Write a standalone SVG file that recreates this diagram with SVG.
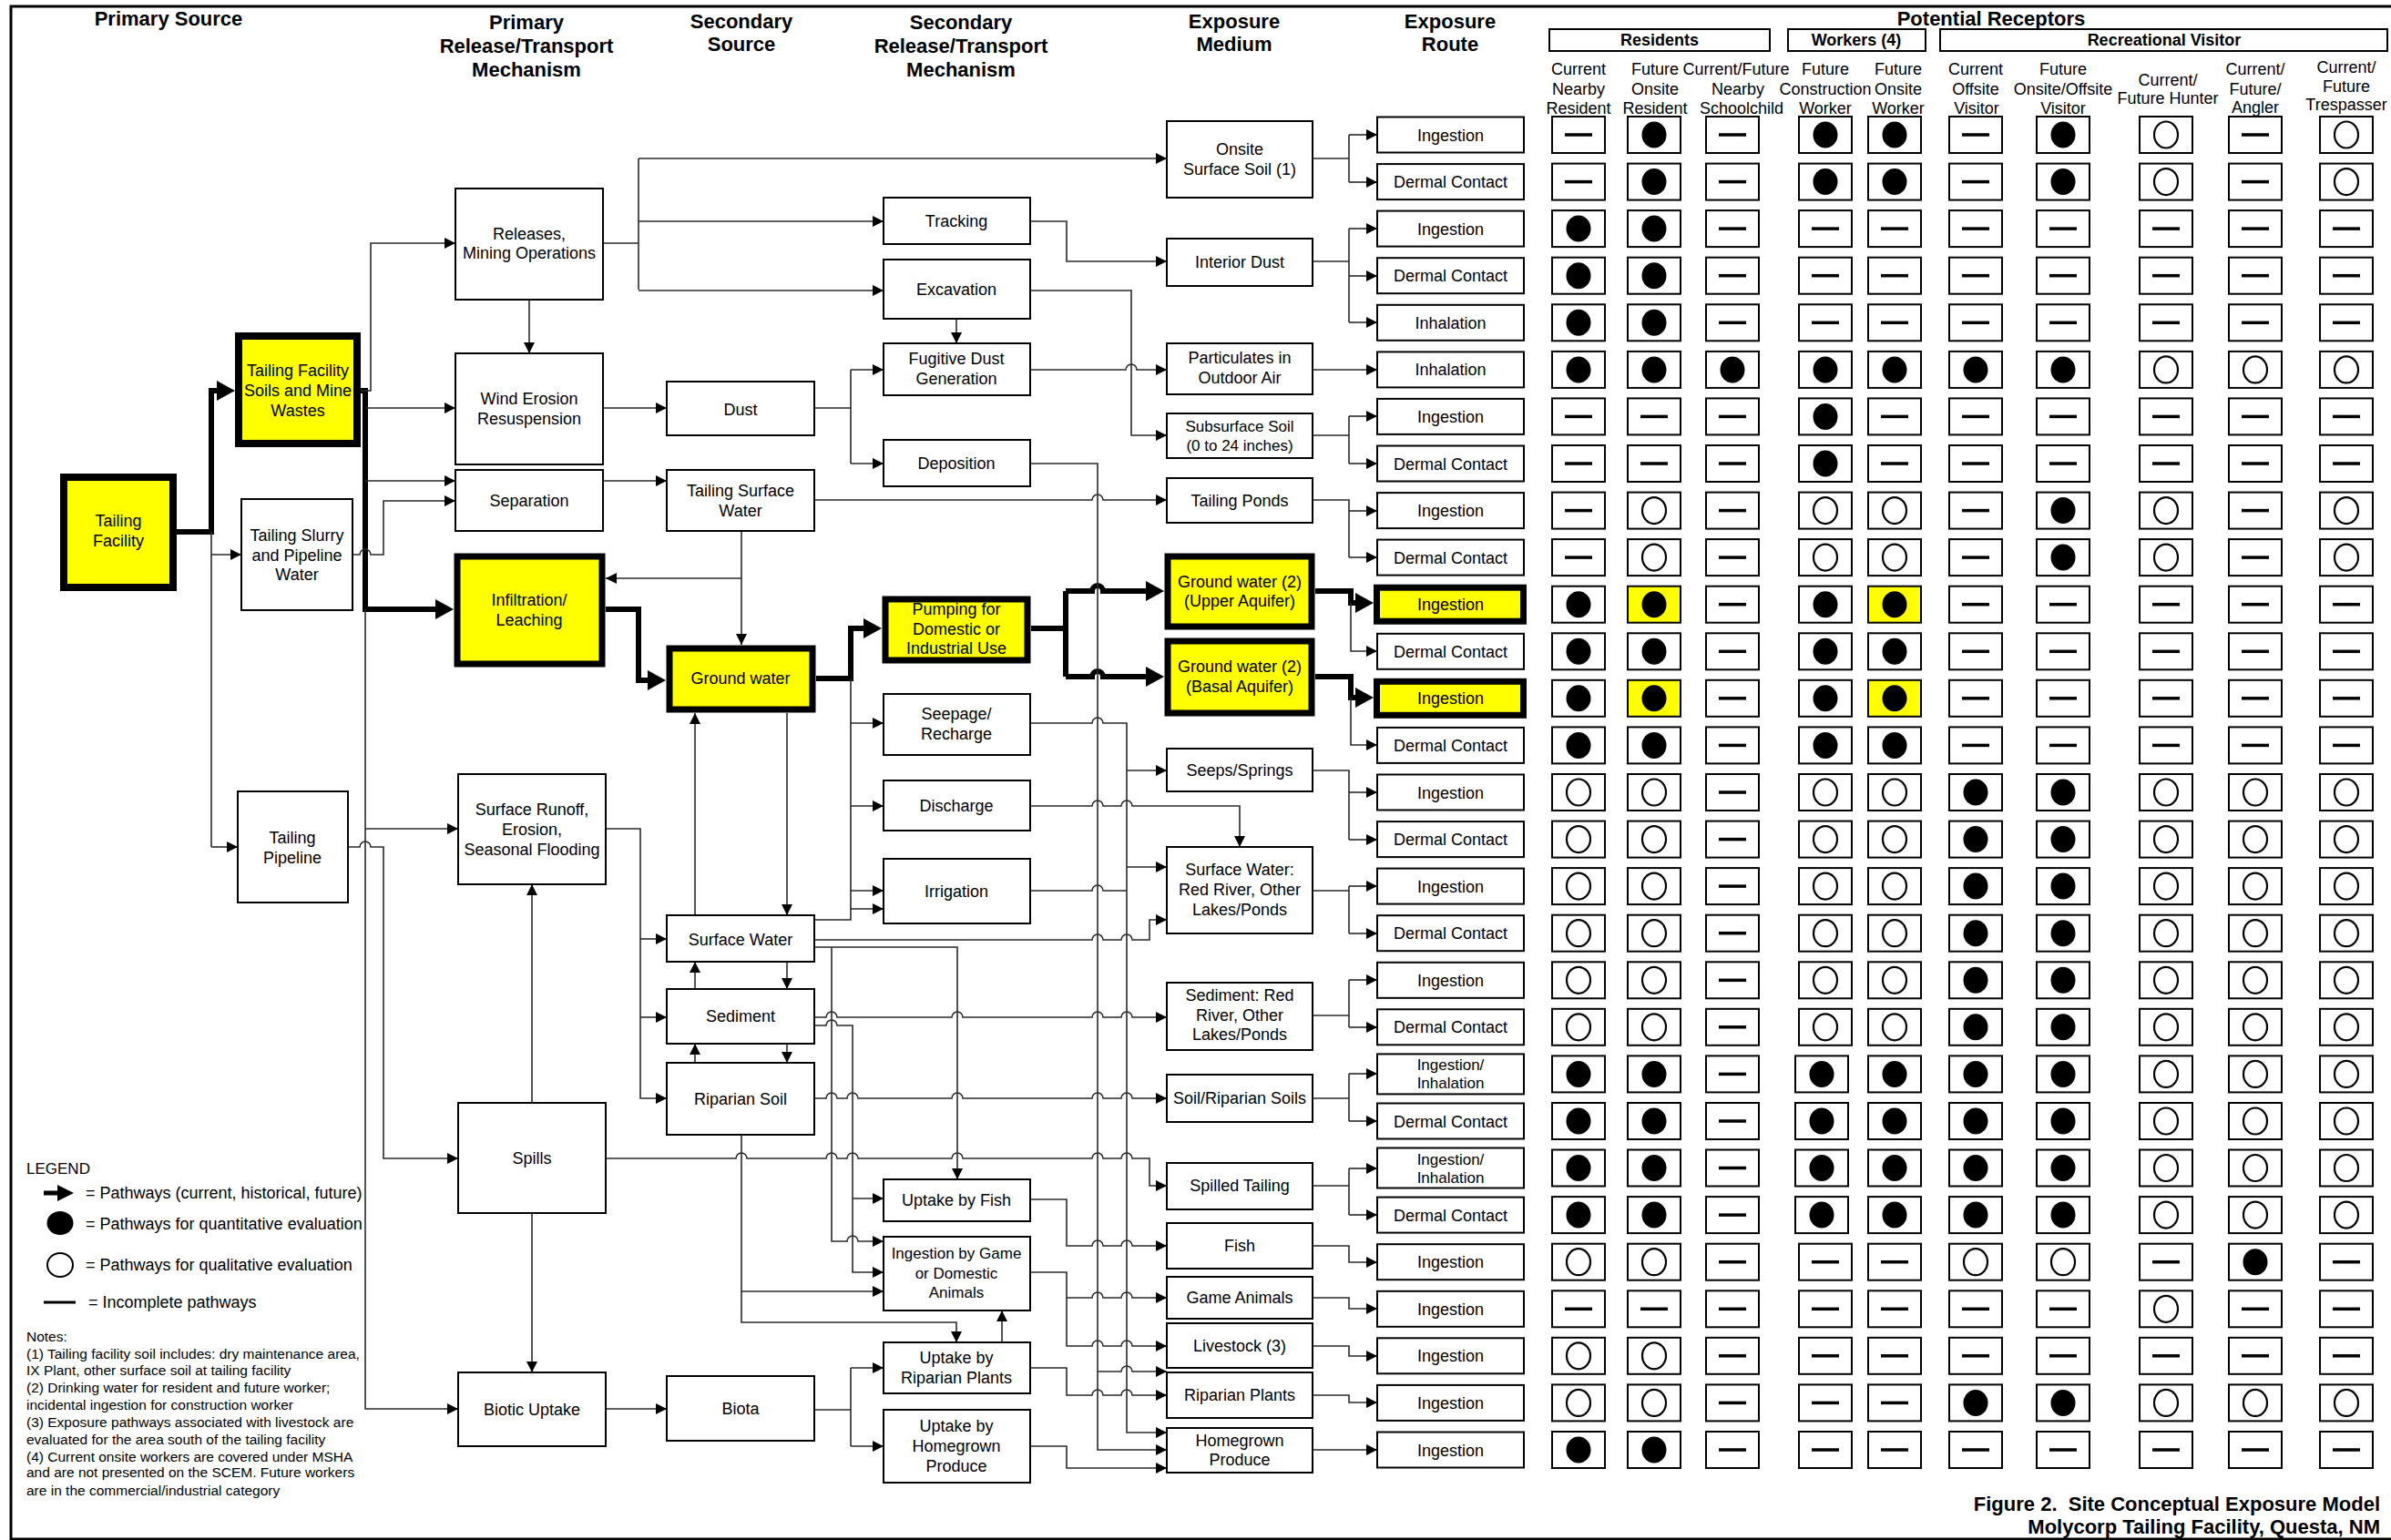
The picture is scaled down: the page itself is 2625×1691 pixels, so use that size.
<svg xmlns="http://www.w3.org/2000/svg" width="2625" height="1691" viewBox="0 0 2625 1691">
<style>
.b{fill:#fff;stroke:#000;stroke-width:2}
.yk{fill:#ffff00;stroke:#000}
.cl{fill:#fff;stroke:#000;stroke-width:2}
.t{font-family:"Liberation Sans",Arial,sans-serif;font-size:18px;text-anchor:middle;fill:#000}
.hd{font-family:"Liberation Sans",Arial,sans-serif;font-size:22px;font-weight:bold;text-anchor:middle;fill:#000}
.gh{font-family:"Liberation Sans",Arial,sans-serif;font-size:18px;font-weight:bold;text-anchor:middle;fill:#000}
.lg{font-family:"Liberation Sans",Arial,sans-serif;font-size:18px;fill:#000}
.nt{font-family:"Liberation Sans",Arial,sans-serif;font-size:15.5px;fill:#000}
.c{fill:none;stroke:#2a2a2a;stroke-width:1.6}
.m{marker-end:url(#ar)}
.k{fill:none;stroke:#000;stroke-width:6}
.M{marker-end:url(#AR)}
</style>
<defs>
<marker id="ar" viewBox="0 0 12 12" refX="12" refY="6" markerWidth="12" markerHeight="12" orient="auto" markerUnits="userSpaceOnUse"><path d="M0,0L12,6L0,12z" fill="#000"/></marker>
<marker id="AR" viewBox="0 0 20 22" refX="2" refY="11" markerWidth="20" markerHeight="22" orient="auto" markerUnits="userSpaceOnUse"><path d="M0,0L20,11L0,22z" fill="#000"/></marker>
<g id="F"><rect x="-29" y="-20" width="58" height="40" class="cl"/><ellipse rx="13.5" ry="14.5" fill="#000"/></g>
<g id="O"><rect x="-29" y="-20" width="58" height="40" class="cl"/><ellipse rx="13" ry="14.5" fill="none" stroke="#000" stroke-width="2.2"/></g>
<g id="D"><rect x="-29" y="-20" width="58" height="40" class="cl"/><path d="M-15,0H15" stroke="#000" stroke-width="3.5"/></g>
<g id="Y"><rect x="-29" y="-20" width="58" height="40" fill="#ffff00" stroke="#000" stroke-width="2"/><ellipse rx="13.5" ry="14.5" fill="#000"/></g>
</defs>
<rect width="2625" height="1691" fill="#fff"/>
<rect x="12" y="7" width="2640" height="1683" fill="none" stroke="#000" stroke-width="3"/>

<g id="titles">
<text class="hd" x="185" y="28">Primary Source</text>
<text class="hd"><tspan x="578" y="32">Primary</tspan><tspan x="578" y="58">Release/Transport</tspan><tspan x="578" y="84">Mechanism</tspan></text>
<text class="hd"><tspan x="814" y="31">Secondary</tspan><tspan x="814" y="56">Source</tspan></text>
<text class="hd"><tspan x="1055" y="32">Secondary</tspan><tspan x="1055" y="58">Release/Transport</tspan><tspan x="1055" y="84">Mechanism</tspan></text>
<text class="hd"><tspan x="1355" y="31">Exposure</tspan><tspan x="1355" y="56">Medium</tspan></text>
<text class="hd"><tspan x="1592" y="31">Exposure</tspan><tspan x="1592" y="56">Route</tspan></text>
<text class="hd" x="2186" y="28">Potential Receptors</text>
</g>

<g id="receptor-groups">
<rect x="1701" y="32" width="242" height="24" class="b"/><text class="gh" x="1822" y="50">Residents</text>
<rect x="1963" y="32" width="151" height="24" class="b"/><text class="gh" x="2038" y="50">Workers (4)</text>
<rect x="2130" y="32" width="491" height="24" class="b"/><text class="gh" x="2376" y="50">Recreational Visitor</text>
</g>
<g id="receptor-headers">
<text class="t"><tspan x="1733" y="82">Current</tspan><tspan x="1733" y="103.5">Nearby</tspan><tspan x="1733" y="125">Resident</tspan></text>
<text class="t"><tspan x="1817" y="82">Future</tspan><tspan x="1817" y="103.5">Onsite</tspan><tspan x="1817" y="125">Resident</tspan></text>
<text class="t"><tspan x="1906" y="82">Current/Future</tspan><tspan x="1908" y="103.5">Nearby</tspan><tspan x="1912" y="125">Schoolchild</tspan></text>
<text class="t"><tspan x="2004" y="82">Future</tspan><tspan x="2004" y="103.5">Construction</tspan><tspan x="2004" y="125">Worker</tspan></text>
<text class="t"><tspan x="2084" y="82">Future</tspan><tspan x="2084" y="103.5">Onsite</tspan><tspan x="2084" y="125">Worker</tspan></text>
<text class="t"><tspan x="2169" y="82">Current</tspan><tspan x="2169" y="103.5">Offsite</tspan><tspan x="2170" y="125">Visitor</tspan></text>
<text class="t"><tspan x="2265" y="82">Future</tspan><tspan x="2265" y="103.5">Onsite/Offsite</tspan><tspan x="2265" y="125">Visitor</tspan></text>
<text class="t"><tspan x="2380" y="94">Current/</tspan><tspan x="2380" y="114">Future Hunter</tspan></text>
<text class="t"><tspan x="2476" y="82">Current/</tspan><tspan x="2476" y="103.5">Future/</tspan><tspan x="2476" y="124">Angler</tspan></text>
<text class="t"><tspan x="2576" y="80">Current/</tspan><tspan x="2576" y="101">Future</tspan><tspan x="2576" y="121">Trespasser</tspan></text>
</g>

<g id="connectors">
<path class="k M" d="M194,584H232V429H240"/>
<path class="k M" d="M396,429H401V669H480"/>
<path class="k M" d="M665,669H701V747H713"/>
<path class="k M" d="M896,745H934V690H950"/>
<path class="k" d="M1132,690H1170M1170,649V743"/>
<path class="k M" d="M1170,649H1199a6,6 0 0 1 12,0H1260"/>
<path class="k M" d="M1170,743H1199a6,6 0 0 1 12,0H1260"/>
<path class="k M" d="M1444,649H1483V662H1490"/>
<path class="k M" d="M1444,743H1483V766H1490"/>

<path class="c" d="M232,584V930"/>
<path class="c m" d="M232,930H261"/>
<path class="c m" d="M232,609H265"/>
<path class="c m" d="M396,429H407V267H500"/>
<path class="c m" d="M401,448H500"/>
<path class="c m" d="M401,528H500"/>
<path class="c m" d="M387,609H395a6,6 0 0 1 12,0H421V550H500"/>
<path class="c m" d="M382,930H395a6,6 0 0 1 12,0H421V1272H503"/>
<path class="c m" d="M401,669V1547H503"/>
<path class="c m" d="M401,910H503"/>
<path class="c m" d="M581,329V388"/>
<path class="c" d="M662,267H701M701,174V318"/>
<path class="c m" d="M701,174H1281"/>
<path class="c m" d="M701,243H970"/>
<path class="c m" d="M701,319H970"/>
<path class="c m" d="M662,448H732"/>
<path class="c m" d="M662,528H732"/>
<path class="c m" d="M814,583V708"/>
<path class="c m" d="M814,635H665"/>
<path class="c m" d="M894,549H1199a6,6 0 0 1 12,0H1281"/>
<path class="c" d="M894,448H934M934,406V509"/>
<path class="c m" d="M934,406H970"/>
<path class="c m" d="M934,509H970"/>
<path class="c m" d="M1050,350V377"/>
<path class="c m" d="M1131,243H1171V287H1281"/>
<path class="c m" d="M1131,319H1242V478H1281"/>
<path class="c m" d="M1131,406H1236a6,6 0 0 1 12,0H1281"/>
<path class="c m" d="M1131,509H1205V1592H1281"/>
<path class="c m" d="M1205,1506H1231a6,6 0 0 1 12,0H1281"/>
<path class="c m" d="M864,783V1005"/>
<path class="c m" d="M763,1005V783"/>
<path class="c" d="M934,745V1010H894"/>
<path class="c m" d="M934,794H970"/>
<path class="c m" d="M934,885H970"/>
<path class="c m" d="M934,978H970"/>
<path class="c m" d="M934,998H970"/>
<path class="c m" d="M894,1032H1199a6,6 0 0 1 12,0H1231a6,6 0 0 1 12,0H1262V1010H1281"/>
<path class="c m" d="M1131,794H1199a6,6 0 0 1 12,0H1237V1573H1281"/>
<path class="c m" d="M1237,846H1281"/>
<path class="c m" d="M1237,952H1281"/>
<path class="c m" d="M1131,885H1199a6,6 0 0 1 12,0H1231a6,6 0 0 1 12,0H1361V930"/>
<path class="c" d="M1131,978H1199a6,6 0 0 1 12,0H1237"/>
<path class="c m" d="M894,1040H1051V1295"/>
<path class="c m" d="M913,1040V1363H930a6,6 0 0 1 12,0H970"/>
<path class="c m" d="M894,1126H907a6,6 0 0 1 12,0H936V1397H970"/>
<path class="c m" d="M936,1316H970"/>
<path class="c m" d="M894,1117H907a6,6 0 0 1 12,0H1045a6,6 0 0 1 12,0H1199a6,6 0 0 1 12,0H1231a6,6 0 0 1 12,0H1281"/>
<path class="c m" d="M665,910H703V1206H732"/>
<path class="c m" d="M703,1031H732"/>
<path class="c m" d="M703,1117H732"/>
<path class="c m" d="M763,1086V1056"/>
<path class="c m" d="M864,1056V1086"/>
<path class="c m" d="M763,1167V1146"/>
<path class="c m" d="M864,1146V1167"/>
<path class="c m" d="M894,1206H907a6,6 0 0 1 12,0H930a6,6 0 0 1 12,0H1045a6,6 0 0 1 12,0H1199a6,6 0 0 1 12,0H1231a6,6 0 0 1 12,0H1281"/>
<path class="c m" d="M665,1272H808a6,6 0 0 1 12,0H907a6,6 0 0 1 12,0H930a6,6 0 0 1 12,0H1045a6,6 0 0 1 12,0H1199a6,6 0 0 1 12,0H1231a6,6 0 0 1 12,0H1262V1302H1281"/>
<path class="c m" d="M584,1211V971"/>
<path class="c m" d="M584,1332V1507"/>
<path class="c m" d="M814,1246V1452H1050V1474"/>
<path class="c m" d="M814,1418H970"/>
<path class="c m" d="M665,1547H732"/>
<path class="c" d="M894,1548H934M934,1502V1588"/>
<path class="c m" d="M934,1502H970"/>
<path class="c m" d="M934,1588H970"/>
<path class="c m" d="M1100,1474V1439"/>
<path class="c m" d="M1131,1317H1171V1368H1199a6,6 0 0 1 12,0H1231a6,6 0 0 1 12,0H1281"/>
<path class="c m" d="M1131,1397H1171V1478H1199a6,6 0 0 1 12,0H1231a6,6 0 0 1 12,0H1281"/>
<path class="c m" d="M1171,1425H1199a6,6 0 0 1 12,0H1231a6,6 0 0 1 12,0H1281"/>
<path class="c m" d="M1131,1502H1171V1532H1199a6,6 0 0 1 12,0H1231a6,6 0 0 1 12,0H1281"/>
<path class="c m" d="M1131,1588H1171V1612H1281"/>

<path class="c" d="M1441,174H1481M1481,148V200"/>
<path class="c m" d="M1481,148H1512"/><path class="c m" d="M1481,200H1512"/>
<path class="c" d="M1441,287H1481M1481,251V354"/>
<path class="c m" d="M1481,251H1512"/><path class="c m" d="M1481,303H1512"/><path class="c m" d="M1481,354H1512"/>
<path class="c m" d="M1441,406H1512"/>
<path class="c" d="M1441,478H1481M1481,457V509"/>
<path class="c m" d="M1481,457H1512"/><path class="c m" d="M1481,509H1512"/>
<path class="c" d="M1441,549H1481V612"/>
<path class="c m" d="M1481,561H1512"/><path class="c m" d="M1481,612H1512"/>
<path class="c m" d="M1483,662V715H1512"/>
<path class="c m" d="M1483,766V818H1512"/>
<path class="c" d="M1441,846H1481V922"/>
<path class="c m" d="M1481,870H1512"/><path class="c m" d="M1481,922H1512"/>
<path class="c" d="M1441,978H1481M1481,973V1025"/>
<path class="c m" d="M1481,973H1512"/><path class="c m" d="M1481,1025H1512"/>
<path class="c" d="M1441,1115H1481M1481,1076V1128"/>
<path class="c m" d="M1481,1076H1512"/><path class="c m" d="M1481,1128H1512"/>
<path class="c" d="M1441,1206H1481M1481,1179V1231"/>
<path class="c m" d="M1481,1179H1512"/><path class="c m" d="M1481,1231H1512"/>
<path class="c" d="M1441,1302H1481M1481,1283V1334"/>
<path class="c m" d="M1481,1283H1512"/><path class="c m" d="M1481,1334H1512"/>
<path class="c m" d="M1441,1368H1481V1386H1512"/>
<path class="c m" d="M1441,1425H1481V1437H1512"/>
<path class="c m" d="M1441,1478H1481V1489H1512"/>
<path class="c m" d="M1441,1532H1481V1540H1512"/>
<path class="c m" d="M1441,1592H1512"/>
</g>

<g id="tailing-facility"><rect x="70" y="524" width="120" height="121" class="yk" stroke-width="8"/><text class="t"><tspan x="130" y="578">Tailing</tspan><tspan x="130" y="600">Facility</tspan></text></g>
<g id="tailing-facility-soils"><rect x="262" y="369" width="130" height="118" class="yk" stroke-width="8"/><text class="t"><tspan x="327" y="413">Tailing Facility</tspan><tspan x="327" y="435">Soils and Mine</tspan><tspan x="327" y="457">Wastes</tspan></text></g>
<g id="tailing-slurry"><rect x="265" y="548" width="122" height="122" class="b"/><text class="t"><tspan x="326" y="594">Tailing Slurry</tspan><tspan x="326" y="616">and Pipeline</tspan><tspan x="326" y="637">Water</tspan></text></g>
<g id="tailing-pipeline"><rect x="261" y="869" width="121" height="122" class="b"/><text class="t"><tspan x="321" y="926">Tailing</tspan><tspan x="321" y="948">Pipeline</tspan></text></g>

<g id="releases"><rect x="500" y="207" width="162" height="122" class="b"/><text class="t"><tspan x="581" y="263">Releases,</tspan><tspan x="581" y="284">Mining Operations</tspan></text></g>
<g id="wind-erosion"><rect x="500" y="388" width="162" height="122" class="b"/><text class="t"><tspan x="581" y="444">Wind Erosion</tspan><tspan x="581" y="466">Resuspension</tspan></text></g>
<g id="separation"><rect x="500" y="516" width="162" height="67" class="b"/><text class="t" x="581" y="556">Separation</text></g>
<g id="infiltration"><rect x="502" y="611" width="159" height="118" class="yk" stroke-width="7"/><text class="t"><tspan x="581" y="665">Infiltration/</tspan><tspan x="581" y="687">Leaching</tspan></text></g>
<g id="surface-runoff"><rect x="503" y="850" width="162" height="121" class="b"/><text class="t"><tspan x="584" y="895">Surface Runoff,</tspan><tspan x="584" y="917">Erosion,</tspan><tspan x="584" y="939">Seasonal Flooding</tspan></text></g>
<g id="spills"><rect x="503" y="1211" width="162" height="121" class="b"/><text class="t" x="584" y="1278">Spills</text></g>
<g id="biotic-uptake"><rect x="503" y="1507" width="162" height="81" class="b"/><text class="t" x="584" y="1554">Biotic Uptake</text></g>

<g id="dust"><rect x="732" y="419" width="162" height="59" class="b"/><text class="t" x="813" y="456">Dust</text></g>
<g id="tailing-surface-water"><rect x="732" y="516" width="162" height="67" class="b"/><text class="t"><tspan x="813" y="545">Tailing Surface</tspan><tspan x="813" y="567">Water</tspan></text></g>
<g id="ground-water"><rect x="735" y="712" width="157" height="67" class="yk" stroke-width="7"/><text class="t" x="813" y="751">Ground water</text></g>
<g id="surface-water"><rect x="732" y="1005" width="162" height="51" class="b"/><text class="t" x="813" y="1038">Surface Water</text></g>
<g id="sediment"><rect x="732" y="1086" width="162" height="60" class="b"/><text class="t" x="813" y="1122">Sediment</text></g>
<g id="riparian-soil"><rect x="732" y="1167" width="162" height="79" class="b"/><text class="t" x="813" y="1213">Riparian Soil</text></g>
<g id="biota"><rect x="732" y="1511" width="162" height="71" class="b"/><text class="t" x="813" y="1553">Biota</text></g>

<g id="tracking"><rect x="970" y="217" width="161" height="51" class="b"/><text class="t" x="1050" y="249">Tracking</text></g>
<g id="excavation"><rect x="970" y="285" width="161" height="65" class="b"/><text class="t" x="1050" y="324">Excavation</text></g>
<g id="fugitive-dust"><rect x="970" y="377" width="161" height="57" class="b"/><text class="t"><tspan x="1050" y="400">Fugitive Dust</tspan><tspan x="1050" y="422">Generation</tspan></text></g>
<g id="deposition"><rect x="970" y="483" width="161" height="51" class="b"/><text class="t" x="1050" y="515">Deposition</text></g>
<g id="pumping"><rect x="972" y="658" width="156" height="67" class="yk" stroke-width="7"/><text class="t"><tspan x="1050" y="675">Pumping for</tspan><tspan x="1050" y="697">Domestic or</tspan><tspan x="1050" y="718">Industrial Use</tspan></text></g>
<g id="seepage"><rect x="970" y="762" width="161" height="67" class="b"/><text class="t"><tspan x="1050" y="790">Seepage/</tspan><tspan x="1050" y="812">Recharge</tspan></text></g>
<g id="discharge"><rect x="970" y="857" width="161" height="55" class="b"/><text class="t" x="1050" y="891">Discharge</text></g>
<g id="irrigation"><rect x="970" y="943" width="161" height="71" class="b"/><text class="t" x="1050" y="985">Irrigation</text></g>
<g id="uptake-fish"><rect x="970" y="1295" width="161" height="46" class="b"/><text class="t" x="1050" y="1324">Uptake by Fish</text></g>
<g id="ingestion-game"><rect x="970" y="1358" width="161" height="81" class="b"/><text class="t" style="font-size:17px"><tspan x="1050" y="1382">Ingestion by Game</tspan><tspan x="1050" y="1404">or Domestic</tspan><tspan x="1050" y="1425">Animals</tspan></text></g>
<g id="uptake-riparian"><rect x="970" y="1474" width="161" height="56" class="b"/><text class="t"><tspan x="1050" y="1497">Uptake by</tspan><tspan x="1050" y="1519">Riparian Plants</tspan></text></g>
<g id="uptake-homegrown"><rect x="970" y="1548" width="161" height="80" class="b"/><text class="t"><tspan x="1050" y="1572">Uptake by</tspan><tspan x="1050" y="1594">Homegrown</tspan><tspan x="1050" y="1616">Produce</tspan></text></g>

<g id="onsite-surface-soil"><rect x="1281" y="133" width="160" height="84" class="b"/><text class="t"><tspan x="1361" y="170">Onsite</tspan><tspan x="1361" y="192">Surface Soil (1)</tspan></text></g>
<g id="interior-dust"><rect x="1281" y="262" width="160" height="52" class="b"/><text class="t" x="1361" y="294">Interior Dust</text></g>
<g id="particulates"><rect x="1281" y="377" width="160" height="56" class="b"/><text class="t"><tspan x="1361" y="399">Particulates in</tspan><tspan x="1361" y="421">Outdoor Air</tspan></text></g>
<g id="subsurface-soil"><rect x="1281" y="454" width="160" height="49" class="b"/><text class="t" style="font-size:17px"><tspan x="1361" y="474">Subsurface Soil</tspan><tspan x="1361" y="495">(0 to 24 inches)</tspan></text></g>
<g id="tailing-ponds"><rect x="1281" y="525" width="160" height="49" class="b"/><text class="t" x="1361" y="556">Tailing Ponds</text></g>
<g id="gw-upper"><rect x="1282" y="611" width="158" height="77" class="yk" stroke-width="7"/><text class="t"><tspan x="1361" y="645">Ground water (2)</tspan><tspan x="1361" y="666">(Upper Aquifer)</tspan></text></g>
<g id="gw-basal"><rect x="1282" y="704" width="158" height="79" class="yk" stroke-width="7"/><text class="t"><tspan x="1361" y="738">Ground water (2)</tspan><tspan x="1361" y="760">(Basal Aquifer)</tspan></text></g>
<g id="seeps-springs"><rect x="1281" y="822" width="160" height="47" class="b"/><text class="t" x="1361" y="852">Seeps/Springs</text></g>
<g id="surface-water-medium"><rect x="1281" y="930" width="160" height="95" class="b"/><text class="t"><tspan x="1361" y="961">Surface Water:</tspan><tspan x="1361" y="983">Red River, Other</tspan><tspan x="1361" y="1005">Lakes/Ponds</tspan></text></g>
<g id="sediment-medium"><rect x="1281" y="1079" width="160" height="74" class="b"/><text class="t"><tspan x="1361" y="1099">Sediment: Red</tspan><tspan x="1361" y="1121">River, Other</tspan><tspan x="1361" y="1142">Lakes/Ponds</tspan></text></g>
<g id="soil-riparian"><rect x="1281" y="1180" width="160" height="52" class="b"/><text class="t" x="1361" y="1212">Soil/Riparian Soils</text></g>
<g id="spilled-tailing"><rect x="1281" y="1277" width="160" height="51" class="b"/><text class="t" x="1361" y="1308">Spilled Tailing</text></g>
<g id="fish"><rect x="1281" y="1343" width="160" height="50" class="b"/><text class="t" x="1361" y="1374">Fish</text></g>
<g id="game-animals"><rect x="1281" y="1402" width="160" height="46" class="b"/><text class="t" x="1361" y="1431">Game Animals</text></g>
<g id="livestock"><rect x="1281" y="1453" width="160" height="49" class="b"/><text class="t" x="1361" y="1484">Livestock (3)</text></g>
<g id="riparian-plants"><rect x="1281" y="1507" width="160" height="50" class="b"/><text class="t" x="1361" y="1538">Riparian Plants</text></g>
<g id="homegrown-produce"><rect x="1281" y="1568" width="160" height="49" class="b"/><text class="t"><tspan x="1361" y="1588">Homegrown</tspan><tspan x="1361" y="1609">Produce</tspan></text></g>

<g id="routes">
<g id="route-0" transform="translate(1512,148)"><rect y="-19.5" width="161" height="39" class="b"/><text class="t" x="80.5" y="6.5">Ingestion</text></g>
<g id="route-1" transform="translate(1512,199.6)"><rect y="-19.5" width="161" height="39" class="b"/><text class="t" x="80.5" y="6.5">Dermal Contact</text></g>
<g id="route-2" transform="translate(1512,251.1)"><rect y="-19.5" width="161" height="39" class="b"/><text class="t" x="80.5" y="6.5">Ingestion</text></g>
<g id="route-3" transform="translate(1512,302.7)"><rect y="-19.5" width="161" height="39" class="b"/><text class="t" x="80.5" y="6.5">Dermal Contact</text></g>
<g id="route-4" transform="translate(1512,354.3)"><rect y="-19.5" width="161" height="39" class="b"/><text class="t" x="80.5" y="6.5">Inhalation</text></g>
<g id="route-5" transform="translate(1512,405.9)"><rect y="-19.5" width="161" height="39" class="b"/><text class="t" x="80.5" y="6.5">Inhalation</text></g>
<g id="route-6" transform="translate(1512,457.4)"><rect y="-19.5" width="161" height="39" class="b"/><text class="t" x="80.5" y="6.5">Ingestion</text></g>
<g id="route-7" transform="translate(1512,509)"><rect y="-19.5" width="161" height="39" class="b"/><text class="t" x="80.5" y="6.5">Dermal Contact</text></g>
<g id="route-8" transform="translate(1512,560.6)"><rect y="-19.5" width="161" height="39" class="b"/><text class="t" x="80.5" y="6.5">Ingestion</text></g>
<g id="route-9" transform="translate(1512,612.1)"><rect y="-19.5" width="161" height="39" class="b"/><text class="t" x="80.5" y="6.5">Dermal Contact</text></g>
<g id="route-10" transform="translate(1512,663.7)"><rect x="-0.5" y="-18.5" width="161" height="37" class="yk" stroke-width="7"/><text class="t" x="80.5" y="6.5">Ingestion</text></g>
<g id="route-11" transform="translate(1512,715.3)"><rect y="-19.5" width="161" height="39" class="b"/><text class="t" x="80.5" y="6.5">Dermal Contact</text></g>
<g id="route-12" transform="translate(1512,766.8)"><rect x="-0.5" y="-18.5" width="161" height="37" class="yk" stroke-width="7"/><text class="t" x="80.5" y="6.5">Ingestion</text></g>
<g id="route-13" transform="translate(1512,818.4)"><rect y="-19.5" width="161" height="39" class="b"/><text class="t" x="80.5" y="6.5">Dermal Contact</text></g>
<g id="route-14" transform="translate(1512,870)"><rect y="-19.5" width="161" height="39" class="b"/><text class="t" x="80.5" y="6.5">Ingestion</text></g>
<g id="route-15" transform="translate(1512,921.6)"><rect y="-19.5" width="161" height="39" class="b"/><text class="t" x="80.5" y="6.5">Dermal Contact</text></g>
<g id="route-16" transform="translate(1512,973.1)"><rect y="-19.5" width="161" height="39" class="b"/><text class="t" x="80.5" y="6.5">Ingestion</text></g>
<g id="route-17" transform="translate(1512,1024.7)"><rect y="-19.5" width="161" height="39" class="b"/><text class="t" x="80.5" y="6.5">Dermal Contact</text></g>
<g id="route-18" transform="translate(1512,1076.3)"><rect y="-19.5" width="161" height="39" class="b"/><text class="t" x="80.5" y="6.5">Ingestion</text></g>
<g id="route-19" transform="translate(1512,1127.8)"><rect y="-19.5" width="161" height="39" class="b"/><text class="t" x="80.5" y="6.5">Dermal Contact</text></g>
<g id="route-20" transform="translate(1512,1179.4)"><rect y="-22" width="161" height="44" class="b"/><text class="t" style="font-size:17px"><tspan x="80.5" y="-4">Ingestion/</tspan><tspan x="80.5" y="16">Inhalation</tspan></text></g>
<g id="route-21" transform="translate(1512,1231)"><rect y="-19.5" width="161" height="39" class="b"/><text class="t" x="80.5" y="6.5">Dermal Contact</text></g>
<g id="route-22" transform="translate(1512,1282.5)"><rect y="-22" width="161" height="44" class="b"/><text class="t" style="font-size:17px"><tspan x="80.5" y="-4">Ingestion/</tspan><tspan x="80.5" y="16">Inhalation</tspan></text></g>
<g id="route-23" transform="translate(1512,1334.1)"><rect y="-19.5" width="161" height="39" class="b"/><text class="t" x="80.5" y="6.5">Dermal Contact</text></g>
<g id="route-24" transform="translate(1512,1385.7)"><rect y="-19.5" width="161" height="39" class="b"/><text class="t" x="80.5" y="6.5">Ingestion</text></g>
<g id="route-25" transform="translate(1512,1437.3)"><rect y="-19.5" width="161" height="39" class="b"/><text class="t" x="80.5" y="6.5">Ingestion</text></g>
<g id="route-26" transform="translate(1512,1488.8)"><rect y="-19.5" width="161" height="39" class="b"/><text class="t" x="80.5" y="6.5">Ingestion</text></g>
<g id="route-27" transform="translate(1512,1540.4)"><rect y="-19.5" width="161" height="39" class="b"/><text class="t" x="80.5" y="6.5">Ingestion</text></g>
<g id="route-28" transform="translate(1512,1592)"><rect y="-19.5" width="161" height="39" class="b"/><text class="t" x="80.5" y="6.5">Ingestion</text></g>
</g>

<g id="matrix">
<g transform="translate(0,148)"><use href="#D" x="1733"/><use href="#F" x="1816"/><use href="#D" x="1902"/><use href="#F" x="2004"/><use href="#F" x="2080"/><use href="#D" x="2169"/><use href="#F" x="2265"/><use href="#O" x="2378"/><use href="#D" x="2476"/><use href="#O" x="2576"/></g>
<g transform="translate(0,199.6)"><use href="#D" x="1733"/><use href="#F" x="1816"/><use href="#D" x="1902"/><use href="#F" x="2004"/><use href="#F" x="2080"/><use href="#D" x="2169"/><use href="#F" x="2265"/><use href="#O" x="2378"/><use href="#D" x="2476"/><use href="#O" x="2576"/></g>
<g transform="translate(0,251.1)"><use href="#F" x="1733"/><use href="#F" x="1816"/><use href="#D" x="1902"/><use href="#D" x="2004"/><use href="#D" x="2080"/><use href="#D" x="2169"/><use href="#D" x="2265"/><use href="#D" x="2378"/><use href="#D" x="2476"/><use href="#D" x="2576"/></g>
<g transform="translate(0,302.7)"><use href="#F" x="1733"/><use href="#F" x="1816"/><use href="#D" x="1902"/><use href="#D" x="2004"/><use href="#D" x="2080"/><use href="#D" x="2169"/><use href="#D" x="2265"/><use href="#D" x="2378"/><use href="#D" x="2476"/><use href="#D" x="2576"/></g>
<g transform="translate(0,354.3)"><use href="#F" x="1733"/><use href="#F" x="1816"/><use href="#D" x="1902"/><use href="#D" x="2004"/><use href="#D" x="2080"/><use href="#D" x="2169"/><use href="#D" x="2265"/><use href="#D" x="2378"/><use href="#D" x="2476"/><use href="#D" x="2576"/></g>
<g transform="translate(0,405.9)"><use href="#F" x="1733"/><use href="#F" x="1816"/><use href="#F" x="1902"/><use href="#F" x="2004"/><use href="#F" x="2080"/><use href="#F" x="2169"/><use href="#F" x="2265"/><use href="#O" x="2378"/><use href="#O" x="2476"/><use href="#O" x="2576"/></g>
<g transform="translate(0,457.4)"><use href="#D" x="1733"/><use href="#D" x="1816"/><use href="#D" x="1902"/><use href="#F" x="2004"/><use href="#D" x="2080"/><use href="#D" x="2169"/><use href="#D" x="2265"/><use href="#D" x="2378"/><use href="#D" x="2476"/><use href="#D" x="2576"/></g>
<g transform="translate(0,509)"><use href="#D" x="1733"/><use href="#D" x="1816"/><use href="#D" x="1902"/><use href="#F" x="2004"/><use href="#D" x="2080"/><use href="#D" x="2169"/><use href="#D" x="2265"/><use href="#D" x="2378"/><use href="#D" x="2476"/><use href="#D" x="2576"/></g>
<g transform="translate(0,560.6)"><use href="#D" x="1733"/><use href="#O" x="1816"/><use href="#D" x="1902"/><use href="#O" x="2004"/><use href="#O" x="2080"/><use href="#D" x="2169"/><use href="#F" x="2265"/><use href="#O" x="2378"/><use href="#D" x="2476"/><use href="#O" x="2576"/></g>
<g transform="translate(0,612.1)"><use href="#D" x="1733"/><use href="#O" x="1816"/><use href="#D" x="1902"/><use href="#O" x="2004"/><use href="#O" x="2080"/><use href="#D" x="2169"/><use href="#F" x="2265"/><use href="#O" x="2378"/><use href="#D" x="2476"/><use href="#O" x="2576"/></g>
<g transform="translate(0,663.7)"><use href="#F" x="1733"/><use href="#Y" x="1816"/><use href="#D" x="1902"/><use href="#F" x="2004"/><use href="#Y" x="2080"/><use href="#D" x="2169"/><use href="#D" x="2265"/><use href="#D" x="2378"/><use href="#D" x="2476"/><use href="#D" x="2576"/></g>
<g transform="translate(0,715.3)"><use href="#F" x="1733"/><use href="#F" x="1816"/><use href="#D" x="1902"/><use href="#F" x="2004"/><use href="#F" x="2080"/><use href="#D" x="2169"/><use href="#D" x="2265"/><use href="#D" x="2378"/><use href="#D" x="2476"/><use href="#D" x="2576"/></g>
<g transform="translate(0,766.8)"><use href="#F" x="1733"/><use href="#Y" x="1816"/><use href="#D" x="1902"/><use href="#F" x="2004"/><use href="#Y" x="2080"/><use href="#D" x="2169"/><use href="#D" x="2265"/><use href="#D" x="2378"/><use href="#D" x="2476"/><use href="#D" x="2576"/></g>
<g transform="translate(0,818.4)"><use href="#F" x="1733"/><use href="#F" x="1816"/><use href="#D" x="1902"/><use href="#F" x="2004"/><use href="#F" x="2080"/><use href="#D" x="2169"/><use href="#D" x="2265"/><use href="#D" x="2378"/><use href="#D" x="2476"/><use href="#D" x="2576"/></g>
<g transform="translate(0,870)"><use href="#O" x="1733"/><use href="#O" x="1816"/><use href="#D" x="1902"/><use href="#O" x="2004"/><use href="#O" x="2080"/><use href="#F" x="2169"/><use href="#F" x="2265"/><use href="#O" x="2378"/><use href="#O" x="2476"/><use href="#O" x="2576"/></g>
<g transform="translate(0,921.6)"><use href="#O" x="1733"/><use href="#O" x="1816"/><use href="#D" x="1902"/><use href="#O" x="2004"/><use href="#O" x="2080"/><use href="#F" x="2169"/><use href="#F" x="2265"/><use href="#O" x="2378"/><use href="#O" x="2476"/><use href="#O" x="2576"/></g>
<g transform="translate(0,973.1)"><use href="#O" x="1733"/><use href="#O" x="1816"/><use href="#D" x="1902"/><use href="#O" x="2004"/><use href="#O" x="2080"/><use href="#F" x="2169"/><use href="#F" x="2265"/><use href="#O" x="2378"/><use href="#O" x="2476"/><use href="#O" x="2576"/></g>
<g transform="translate(0,1024.7)"><use href="#O" x="1733"/><use href="#O" x="1816"/><use href="#D" x="1902"/><use href="#O" x="2004"/><use href="#O" x="2080"/><use href="#F" x="2169"/><use href="#F" x="2265"/><use href="#O" x="2378"/><use href="#O" x="2476"/><use href="#O" x="2576"/></g>
<g transform="translate(0,1076.3)"><use href="#O" x="1733"/><use href="#O" x="1816"/><use href="#D" x="1902"/><use href="#O" x="2004"/><use href="#O" x="2080"/><use href="#F" x="2169"/><use href="#F" x="2265"/><use href="#O" x="2378"/><use href="#O" x="2476"/><use href="#O" x="2576"/></g>
<g transform="translate(0,1127.8)"><use href="#O" x="1733"/><use href="#O" x="1816"/><use href="#D" x="1902"/><use href="#O" x="2004"/><use href="#O" x="2080"/><use href="#F" x="2169"/><use href="#F" x="2265"/><use href="#O" x="2378"/><use href="#O" x="2476"/><use href="#O" x="2576"/></g>
<g transform="translate(0,1179.4)"><use href="#F" x="1733"/><use href="#F" x="1816"/><use href="#D" x="1902"/><use href="#F" x="2000"/><use href="#F" x="2080"/><use href="#F" x="2169"/><use href="#F" x="2265"/><use href="#O" x="2378"/><use href="#O" x="2476"/><use href="#O" x="2576"/></g>
<g transform="translate(0,1231)"><use href="#F" x="1733"/><use href="#F" x="1816"/><use href="#D" x="1902"/><use href="#F" x="2000"/><use href="#F" x="2080"/><use href="#F" x="2169"/><use href="#F" x="2265"/><use href="#O" x="2378"/><use href="#O" x="2476"/><use href="#O" x="2576"/></g>
<g transform="translate(0,1282.5)"><use href="#F" x="1733"/><use href="#F" x="1816"/><use href="#D" x="1902"/><use href="#F" x="2000"/><use href="#F" x="2080"/><use href="#F" x="2169"/><use href="#F" x="2265"/><use href="#O" x="2378"/><use href="#O" x="2476"/><use href="#O" x="2576"/></g>
<g transform="translate(0,1334.1)"><use href="#F" x="1733"/><use href="#F" x="1816"/><use href="#D" x="1902"/><use href="#F" x="2000"/><use href="#F" x="2080"/><use href="#F" x="2169"/><use href="#F" x="2265"/><use href="#O" x="2378"/><use href="#O" x="2476"/><use href="#O" x="2576"/></g>
<g transform="translate(0,1385.7)"><use href="#O" x="1733"/><use href="#O" x="1816"/><use href="#D" x="1902"/><use href="#D" x="2004"/><use href="#D" x="2080"/><use href="#O" x="2169"/><use href="#O" x="2265"/><use href="#D" x="2378"/><use href="#F" x="2476"/><use href="#D" x="2576"/></g>
<g transform="translate(0,1437.3)"><use href="#D" x="1733"/><use href="#D" x="1816"/><use href="#D" x="1902"/><use href="#D" x="2004"/><use href="#D" x="2080"/><use href="#D" x="2169"/><use href="#D" x="2265"/><use href="#O" x="2378"/><use href="#D" x="2476"/><use href="#D" x="2576"/></g>
<g transform="translate(0,1488.8)"><use href="#O" x="1733"/><use href="#O" x="1816"/><use href="#D" x="1902"/><use href="#D" x="2004"/><use href="#D" x="2080"/><use href="#D" x="2169"/><use href="#D" x="2265"/><use href="#D" x="2378"/><use href="#D" x="2476"/><use href="#D" x="2576"/></g>
<g transform="translate(0,1540.4)"><use href="#O" x="1733"/><use href="#O" x="1816"/><use href="#D" x="1902"/><use href="#D" x="2004"/><use href="#D" x="2080"/><use href="#F" x="2169"/><use href="#F" x="2265"/><use href="#O" x="2378"/><use href="#O" x="2476"/><use href="#O" x="2576"/></g>
<g transform="translate(0,1592)"><use href="#F" x="1733"/><use href="#F" x="1816"/><use href="#D" x="1902"/><use href="#D" x="2004"/><use href="#D" x="2080"/><use href="#D" x="2169"/><use href="#D" x="2265"/><use href="#D" x="2378"/><use href="#D" x="2476"/><use href="#D" x="2576"/></g>
</g>

<g id="legend">
<text class="lg" x="29" y="1289" style="font-size:17px">LEGEND</text>
<path d="M48,1310H66" stroke="#000" stroke-width="5"/><path d="M63,1301L81,1310L63,1319z" fill="#000"/>
<text class="lg" x="94" y="1316">= Pathways (current, historical, future)</text>
<ellipse cx="66" cy="1343" rx="14.5" ry="13" fill="#000"/>
<text class="lg" x="94" y="1350">= Pathways for quantitative evaluation</text>
<ellipse cx="66" cy="1389" rx="14" ry="13" fill="none" stroke="#000" stroke-width="2"/>
<text class="lg" x="94" y="1395">= Pathways for qualitative evaluation</text>
<path d="M48,1430H83" stroke="#000" stroke-width="3"/>
<text class="lg" x="97" y="1436">= Incomplete pathways</text>
</g>
<g id="notes">
<text class="nt" x="29" y="1473">Notes:</text>
<text class="nt" x="29" y="1492">(1) Tailing facility soil includes: dry maintenance area,</text>
<text class="nt" x="29" y="1510">IX Plant, other surface soil at tailing facility</text>
<text class="nt" x="29" y="1529">(2) Drinking water for resident and future worker;</text>
<text class="nt" x="29" y="1548">incidental ingestion for construction worker</text>
<text class="nt" x="29" y="1567">(3) Exposure pathways associated with livestock are</text>
<text class="nt" x="29" y="1586">evaluated for the area south of the tailing facility</text>
<text class="nt" x="29" y="1605">(4) Current onsite workers are covered under MSHA</text>
<text class="nt" x="29" y="1622">and are not presented on the SCEM. Future workers</text>
<text class="nt" x="29" y="1642">are in the commercial/industrial category</text>
</g>
<g id="caption">
<text class="hd" x="2613" y="1659" style="text-anchor:end">Figure 2.&#160; Site Conceptual Exposure Model</text>
<text class="hd" x="2613" y="1684" style="text-anchor:end">Molycorp Tailing Facility, Questa, NM</text>
</g>
</svg>
